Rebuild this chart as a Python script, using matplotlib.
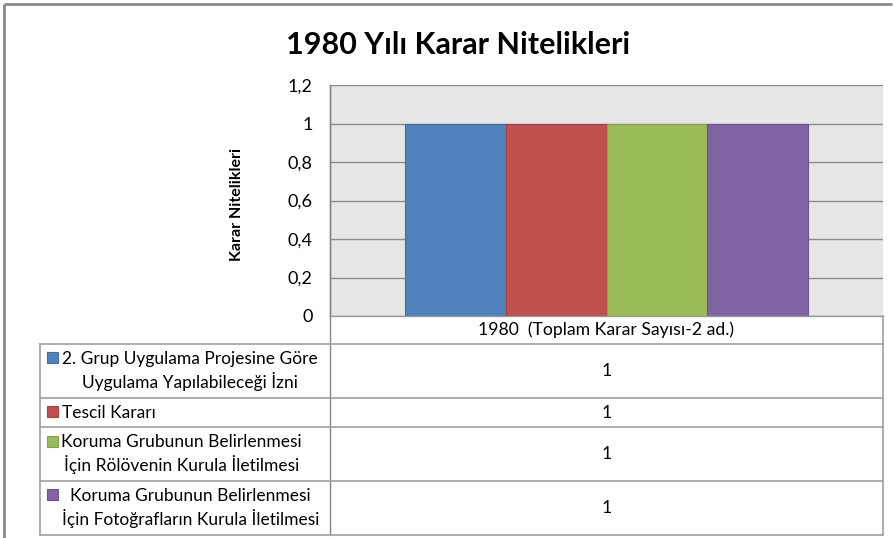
import matplotlib
matplotlib.use("Agg")
import matplotlib.pyplot as plt
from matplotlib.patches import Rectangle

plt.rcParams['font.family'] = ['Lato', 'DejaVu Sans']

# ---- data ----
title = "1980 Yılı Karar Nitelikleri"
y_label = "Karar Nitelikleri"
category = "1980  (Toplam Karar Sayısı-2 ad.)"
series_names = [
    "2. Grup Uygulama Projesine Göre\nUygulama Yapılabileceği İzni",
    "Tescil Kararı",
    "Koruma Grubunun Belirlenmesi\nİçin Rölövenin Kurula İletilmesi",
    "Koruma Grubunun Belirlenmesi\nİçin Fotoğrafların Kurula İletilmesi",
]
series_values = [1, 1, 1, 1]
y_ticks = [0, 0.2, 0.4, 0.6, 0.8, 1.0, 1.2]
y_tick_labels = ["0", "0,2", "0,4", "0,6", "0,8", "1", "1,2"]
colors = ["#4F81BD", "#C0504D", "#9BBB59", "#8064A2"]
edge_colors = ["#41709F", "#A8403D", "#86A34A", "#6D5490"]

W, H = 893, 538
fig = plt.figure(figsize=(W / 100, H / 100), dpi=100)
fig.patch.set_facecolor("white")

def fx(px):
    return px / W

def fy(py):
    return 1 - py / H

# plot area (pixel box)
pl, pr, pt, pb = 330, 883, 85, 316
ax = fig.add_axes([fx(pl), fy(pb), fx(pr - pl), (pb - pt) / H])
ax.set_facecolor("#E6E6E6")

n = len(series_values)
gap = 1.5
bw = 1.0 / (n + gap)
for i, (v, c, ec) in enumerate(zip(series_values, colors, edge_colors)):
    off = (i - (n - 1) / 2) * bw
    ax.bar(0 + off, v, width=bw, color=c, edgecolor=ec, linewidth=0.8, zorder=3)

ax.set_xlim(-0.5, 0.5)
ax.set_ylim(0, 1.2)
ax.set_yticks(y_ticks)
ax.set_yticklabels(y_tick_labels, fontsize=13)
ax.set_xticks([])
ax.tick_params(axis='y', length=0, pad=12.5)
ax.yaxis.grid(True, color="#8C8C8C", linewidth=1.0, zorder=1)
ax.set_axisbelow(True)
for s in ["top", "right", "bottom"]:
    ax.spines[s].set_visible(False)
ax.spines["left"].set_color("#868686")
ax.spines["left"].set_linewidth(1.0)

# overlay in pixel coordinates for title, axis title and data table
ov = fig.add_axes([0, 0, 1, 1], zorder=5)
ov.set_xlim(0, W)
ov.set_ylim(H, 0)
ov.axis("off")
ov.patch.set_alpha(0)

# outer chart frame (top and left edges)
ov.plot([4, 892], [4, 4], color="#8A8A8A", lw=2, solid_capstyle="butt")
ov.plot([4, 4], [4, 538], color="#8A8A8A", lw=2, solid_capstyle="butt")

ov.text(458, 45, title, fontsize=22, fontweight="bold", ha="center", va="center")
ov.text(237, 204, y_label, fontsize=11.5, fontweight="bold", rotation=90,
        ha="center", va="center")

# data table
line_c = "#A0A0A0"
tl, tr = 40, 883
rows = [344, 398, 427, 481, 535]
ov.plot([pl, pl], [pt, rows[-1]], color="#868686", lw=1)
ov.plot([pl, tr], [pb, pb], color="#9A9A9A", lw=1)
for y in rows:
    ov.plot([tl, tr], [y, y], color=line_c, lw=1.2)
ov.plot([tl, tl], [rows[0], rows[-1]], color=line_c, lw=1.2)
ov.plot([tr, tr], [pb, rows[-1]], color=line_c, lw=1.2)

ov.text((pl + tr) / 2, (pb + rows[0]) / 2, category, fontsize=12.7,
        ha="center", va="center")

sq_x = [47, 47, 47, 47]
txt_x = [62, 62, 61, 62]
first_line_y = [357, 411, 441, 494]
for i, (name, v) in enumerate(zip(series_names, series_values)):
    top, bot = rows[i], rows[i + 1]
    ov.add_patch(Rectangle((sq_x[i], first_line_y[i] - 5.5), 11, 11,
                           facecolor=colors[i], edgecolor=edge_colors[i], lw=0.8))
    ov.text(txt_x[i], (top + bot) / 2, name, fontsize=12.5, ha="left",
            va="center", multialignment="center", linespacing=1.3)
    ov.text((pl + tr) / 2, (top + bot) / 2, f"{v:g}", fontsize=12.7,
            ha="center", va="center")

fig.savefig("out.png", dpi=100)
